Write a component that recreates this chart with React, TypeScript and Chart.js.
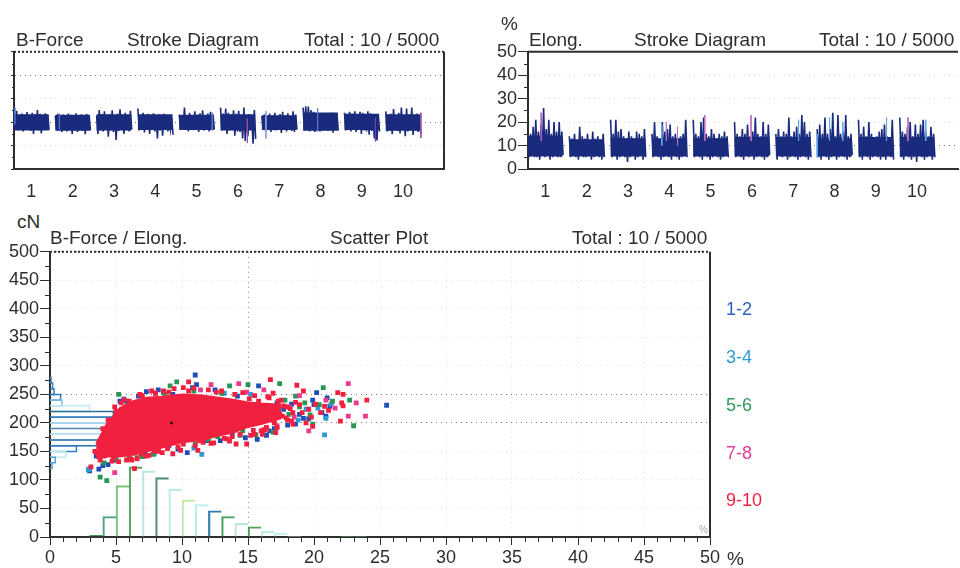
import React, { useEffect, useRef } from "react";
import { Chart, registerables } from "chart.js";

Chart.register(...registerables);

const strokeTickPositions = [0.42, 1.42, 2.42, 3.42, 4.42, 5.42, 6.42, 7.42, 8.42, 9.42];
const strokeTickLabels = ["1", "2", "3", "4", "5", "6", "7", "8", "9", "10"];

// Stroke diagram readings: alternating high / low per bobbin
const force1 = [232,168,248,166,228,172,236,160,231,168,243,171,229,163,240,150,233,170,252,165,235,152,229,169,238,173,231,166];
const force2 = [226,170,235,164,229,158,232,167,224,160,236,172,231,150,228,166,238,158,225,170,233,162,229,148,235,168,230,165];
const force3 = [228,150,252,165,234,160,246,170,228,138,233,164,250,158,226,124,236,162,255,170,231,150,240,166,229,160,248,168];
const force4 = [258,164,232,170,240,156,226,168,235,150,229,172,238,160,224,130,233,164,228,142,236,168,225,160,222,170,218,146];
const force5 = [232,172,226,168,262,176,230,160,240,170,228,166,246,174,232,158,238,170,250,165,229,172,236,160,244,170,231,168];
const force6 = [262,165,236,170,258,150,240,164,232,168,250,142,236,160,248,158,228,130,262,120,230,140,234,168,224,108,252,128];
const force7 = [226,168,232,162,222,170,236,158,228,166,240,165,226,172,234,154,244,168,229,160,238,170,224,162,246,158,232,168];
const force8 = [262,164,268,170,266,160,252,172,244,158,236,168,232,160,228,165,238,170,226,162,232,168,240,155,229,172,236,164];
const force9 = [240,165,232,170,244,160,236,168,246,158,230,172,244,150,240,165,234,160,246,146,238,162,226,130,232,122,228,160];
const force10 = [246,160,232,165,236,148,256,168,230,162,240,152,262,170,228,140,258,160,232,170,262,145,228,166,236,158,226,150];
const forceSeries = [force1, force2, force3, force4, force5, force6, force7, force8, force9, force10];
const forceBodyLow = [166,165,166,168,168,166,168,165,168,165];
const forceBodyHigh = [232,230,232,232,230,232,228,240,234,232];
const forceAccentX = [0.02,1.1,5.65,6.1,7.35,8.75,9.85,4.8];
const forceAccentHigh = [262,236,215,246,258,218,240,240];
const forceAccentLow = [190,168,112,130,160,118,132,165];
const forceAccentColors = ["#3f6fd0","#5a78c8","#a0509a","#8f9fd8","#5a78d0","#6a4ab0","#9a50a8","#5a78c8"];

const elong1 = [14,5,15,6,18,5,21,5,16,4,19,6,26,5,17,6,21,4,15,5,20,6,16,5,20,5,16,6];
const elong2 = [14,5,13,6,15,5,12,4,18,6,14,5,13,5,15,6,12,4,16,5,13,6,14,5,12,4,15,5];
const elong3 = [21,5,15,6,21,4,16,5,17,6,14,5,13,3,16,5,14,6,13,4,16,5,15,6,14,4,17,5];
const elong4 = [15,5,20,6,14,5,13,4,20,5,16,6,17,5,19,4,14,6,15,5,13,4,14,5,15,6,21,5];
const elong5 = [21,5,15,6,14,5,20,4,22,6,15,5,14,4,17,5,15,6,13,5,15,4,14,5,16,6,14,5];
const elong6 = [20,5,15,6,14,5,17,4,15,6,19,5,14,6,16,4,22,5,15,6,14,5,20,4,15,5,19,6];
const elong7 = [15,4,17,6,14,5,16,6,15,4,22,5,14,6,16,5,18,4,15,5,23,6,20,5,15,4,16,5];
const elong8 = [17,5,19,4,15,6,22,5,15,4,17,5,24,6,14,4,23,5,15,6,16,5,23,4,14,5,15,6];
const elong9 = [21,5,15,4,18,6,14,5,20,4,15,5,13,6,14,5,16,4,17,5,19,4,14,6,13,5,21,4];
const elong10 = [22,5,16,4,15,6,18,5,20,4,14,5,19,3,15,6,19,5,21,4,16,5,14,6,18,4,15,5];
const elongSeries = [elong1, elong2, elong3, elong4, elong5, elong6, elong7, elong8, elong9, elong10];
const elongBodyLow = [5.5,5.5,5.5,5.5,5.5,5.5,5.5,5.5,5.5,5.5];
const elongBodyHigh = [14,12.5,13,13,13,13.5,13.5,13,13.5,13.5];
const elongAccentX = [0.32,3.24,3.35,3.62,4.28,5.4,6.55,7.3,7.62,8.68,9.2,9.63,7.0];
const elongAccentHigh = [24,19,20,18,23,23,21,22,20,22,22,21,15];
const elongAccentLow = [12,10,12,10,12,12,12,12,12,12,12,12,5];
const elongAccentColors = ["#b060c0","#60a8e8","#c070c0","#c070c0","#c070c0","#c070c0","#60a8e8","#60a8e8","#60a8e8","#60a8e8","#c070c0","#60a8e8","#60a8e8"];

// Scatter plot readings (elongation %, force cN)
const blueX = [11,25.5,10.4,9.7,15.7,12.9,20.2,21,18.3,11.1,9.3,7.3,5.8,4,3.7,4.4,3,15.8,14.2,12.5,10.8,8.2,6.7,4.9,17.2,16.4,18.9,19.6,20.6,21.2,18,17,13.8,11.9,9,7.2,5.3,3.5,3.8,19.9,14.8,8.6,18.6,19.2,20,20.9,17.7,16.6];
const blueY = [284,231,148,154,171,169,253,244,233,267,250,255,238,125,119,127,116,265,247,258,262,258,247,135,235,178,215,207,218,229,196,190,178,169,160,149,238,142,150,240,174,254,198,208,232,212,224,186];
const cyanX = [20.8,11.5,21.3,3,6.1,7.9,13.2,16.1,18.8,20.3,4.2,10.9,15.2,2.9,5.6,19.4,20.9];
const cyanY = [179,145,233,120,232,146,252,182,205,226,170,156,250,118,242,224,208];
const greenX = [5.2,3.8,4.3,9.1,9.6,15,13.6,17.4,20.7,23,19.9,14.6,12,7.8,5,18.6,19.3,22.7,15.6,7,4.1,6,8.7,10.9,13,14.4,16.2,16.9,17.8,18.1,12.7,11,6.6,8.2,20.4,18.9,19.7,17.2,21.4];
const greenY = [250,105,99,265,272,267,265,269,262,195,198,186,171,145,137,247,235,240,179,141,130,140,250,256,252,178,205,184,240,215,176,163,139,151,232,228,214,222,238];
const pinkX = [22.6,12.2,14.3,23.2,22.6,23.9,4.9,18.1,16.2,11.4,8,18.9,20.9,17.2,14.9,19.6,21.6,18.5,16.4];
const pinkY = [269,267,269,235,212,212,113,228,258,258,252,248,240,195,254,186,226,210,188];
const redX = [16.7,18.7,10.5,21.8,22.2,24,22.1,22.2,22,19.2,20.1,19.1,18.4,19.4,20.5,17.9,14.9,14.1,11.2,9.3,6.4,3.1,8.6,10.1,4,5,6,7,8,9,10.5,12,13,14,15.5,16.5,17.5,17.9,5.2,6.2,8.2,9.7,11.6,13.4,16,17.2,18,18.6,21.1,19.8,16.9,15.5,13.8,12.2,6.6,4.7,3.6,3.4,7.5,17.6,
  4.4,4.9,5.6,6.8,7.7,9.4,10.9,12.6,14.6,15.1,15.8,16.6,17.3,17.7,18.2,16.2,15.4,14.4,13.2,11.3,10.1,8.9,7.9,6.9,5.8,4.8,4.1,3.8,17,16.4,18.4,17.4,
  18.9,19.6,20.8,18.3,19.9,17.1,16.1,15.2,13.6,12.4,11,9.9,8.5,7.3,6.1,5.4];
const redY = [276,266,272,253,250,240,235,230,203,256,233,218,198,200,218,209,163,163,152,146,120,123,256,262,190,220,238,248,252,254,256,258,256,250,248,246,240,228,132,135,150,158,166,172,186,192,205,236,222,210,252,180,176,164,137,133,146,150,143,212,
  205,228,241,250,256,260,261,254,253,242,238,244,238,230,225,188,187,180,173,169,163,155,150,145,135,140,142,135,200,192,218,215,
  232,224,229,203,194,183,180,178,168,165,160,152,148,142,137,235];
const markX = [9.2];
const markY = [200];

// Outline of the saturated part of the cloud
const cloudX = [3.5,4.3,5.3,6.3,7.3,8.5,10,11.5,12.5,14,15,16,17.5];
const cloudUpper = [163,198,226,238,244,246,250,248,245,240,236,234,232];
const cloudLower = [138,141,141,144,150,157,166,170,176,184,193,198,208];

// Histograms
const elongBins = [3.5,4.5,5.5,6.5,7.5,8.5,9.5,10.5,11.5,12.5,13.5,14.5,15.5,16.5,17.5,18.5,19.5,20.5,21.5,22.5,23.5];
const elongCounts = [3,36,90,123,116,104,84,65,57,46,36,24,18,10,7,1,0.5,0.5,0.5,1,1];
const elongBinColors = ["#3c9a50","#4f9f8e","#7fc27a","#5ba565","#b9e8e0","#4f8f78","#bcecea","#c4e9a8","#b9eeea","#2f7ab0","#4aa060","#bfe6da","#4f9f5a","#bfefe6","#bfefe6","#cdeedd","#cfeee2","#cfeee2","#cfeee2","#7cc47c","#7cc47c"];
const forceBinTops = [130,140,150,160,170,180,190,200,210,220,230,240,250,260,270,280];
const forceCounts = [0.15,0.4,1.2,2,3.6,4.4,6.3,5.2,5.8,4.8,3,0.9,0.8,0.3,0.2,0.1];
const forceBinWidth = 10;
const forceBinColors = ["#5aa0d8","#5aa0d8","#bfeaf4","#2f7fc8","#2a6fa8","#c4ecf6","#5a8ab0","#bfeaf4","#2f7fc8","#2a6f90","#bfeaf4","#7fc0e8","#2f7fc8","#2f7fc8","#2f7fc8","#5aa0d8"];

const forceMinorY = [50,150,250,350,450];
const elongMinorY = [5,15,25,35,45];
const scatterMinorY = [25,75,125,175,225,275,325,375,425,475];
const scatterMinorX = [1,2,3,4,6,7,8,9,11,12,13,14,16,17,18,19,21,22,23,24,26,27,28,29,31,32,33,34,36,37,38,39,41,42,43,44,46,47,48,49];
const scatterStrongY = [200, 250, 500];
const scatterStrongX = [15];

const FONT = "'Liberation Sans', Arial, sans-serif";
const INK = "#2e2e2e";
const NAVY = "#1a2b7d";

const extras = {
  id: "extras",
  afterDatasetsDraw(chart: any, _a: any, o: any) {
    const { ctx, chartArea: a, scales } = chart;
    ctx.save();
    ctx.strokeStyle = INK;
    ctx.lineWidth = 1;
    (o.minorY || []).forEach((v: number) => {
      const p = Math.round(scales.y.getPixelForValue(v)) + 0.5;
      ctx.beginPath(); ctx.moveTo(a.left - o.minorLen, p); ctx.lineTo(a.left, p); ctx.stroke();
    });
    (o.minorX || []).forEach((v: number) => {
      const p = Math.round(scales.x.getPixelForValue(v)) + 0.5;
      ctx.beginPath(); ctx.moveTo(p, a.bottom); ctx.lineTo(p, a.bottom + o.minorLen); ctx.stroke();
    });
    ctx.lineWidth = 2;
    if (o.right) {
      ctx.beginPath(); ctx.moveTo(a.right, a.top); ctx.lineTo(a.right, a.bottom); ctx.stroke();
    }
    if (o.top) {
      ctx.setLineDash(o.top === "dotted" ? [2, 2] : []);
      ctx.beginPath(); ctx.moveTo(a.left, a.top); ctx.lineTo(a.right, a.top); ctx.stroke();
    }
    ctx.restore();
  },
};

function strokeOptions(cfg: any): any {
  return {
    responsive: false,
    animation: false,
    layout: { padding: cfg.padding },
    plugins: {
      legend: { display: false },
      tooltip: { enabled: false },
      extras: { minorY: cfg.minorY, minorLen: cfg.minorLen, right: cfg.right, top: cfg.top },
    },
    scales: {
      x: {
        type: "linear",
        min: 0,
        max: 10.41,
        offset: false,
        grid: { display: false, drawTicks: false, offset: false },
        border: { color: INK, width: 2 },
        afterBuildTicks: (s: any) => { s.ticks = strokeTickPositions.map((value) => ({ value })); },
        afterFit: (s: any) => { s.height = cfg.xHeight; },
        ticks: {
          autoSkip: false, maxRotation: 0, padding: 12, color: INK,
          font: { family: FONT, size: 18 },
          callback: (_v: any, i: number) => strokeTickLabels[i],
        },
      },
      y: {
        min: 0,
        max: cfg.max,
        afterFit: (s: any) => { s.width = cfg.yWidth; },
        border: { color: INK, width: 2, dash: [1, 4] },
        grid: {
          color: (c: any) => (cfg.strong.includes(c.tick?.value) ? "#777" : "#d4d4d4"),
          tickColor: INK, tickLength: cfg.tickLen,
        },
        ticks: {
          stepSize: cfg.step, padding: 1, color: INK, autoSkip: false,
          font: { family: FONT, size: 18 },
          callback: (v: any) => (cfg.labels ? String(v) : ""),
        },
      },
    },
  };
}

function strokeData(series: number[][], low: number[], high: number[], accX: number[], accHigh: number[], accLow: number[], accColors: string[], color: string) {
  return {
    datasets: [
      ...accX.map((x, i) => ({
        type: "line",
        label: "spike " + i,
        data: [{ x, y: accHigh[i] }, { x, y: accLow[i] }],
        borderColor: accColors[i],
        borderWidth: 1,
        pointRadius: 0,
        order: 0,
      })),
      ...series.map((vals, g) => ({
        type: "line",
        label: strokeTickLabels[g],
        data: vals.map((y, i) => ({ x: g + (i / (vals.length - 1)) * 0.85, y })),
        borderColor: color,
        borderWidth: 1.6,
        pointRadius: 0,
        tension: 0,
        order: 1,
      })),
      {
        type: "bar",
        label: "body",
        data: low.map((l, g) => ({ x: strokeTickPositions[g], y: [l, high[g]] })),
        backgroundColor: color,
        barThickness: 34,
        borderWidth: 0,
        order: 2,
      },
    ],
  };
}

function pts(xs: number[], ys: number[]) {
  return xs.map((x, i) => ({ x, y: ys[i] }));
}

function scatterSet(label: string, xs: number[], ys: number[], color: string, order: number, radius = 3.4) {
  return {
    type: "scatter", label, data: pts(xs, ys), order,
    backgroundColor: color, borderColor: color, borderWidth: 0,
    pointStyle: "rect", pointRadius: radius,
  };
}

function useChart(build: () => any) {
  const ref = useRef<HTMLCanvasElement | null>(null);
  useEffect(() => {
    const c = new Chart(ref.current as any, build());
    return () => c.destroy();
  }, []);
  return ref;
}

const Label = ({ x, y, children, color = INK, size = 19 }: any) => (
  <span style={{ position: "absolute", left: x, top: y, color, fontFamily: FONT, fontSize: size, lineHeight: "20px", whiteSpace: "pre" }}>{children}</span>
);

export default function App() {
  const forceRef = useChart(() => ({
    type: "line",
    data: strokeData(forceSeries, forceBodyLow, forceBodyHigh, forceAccentX, forceAccentHigh, forceAccentLow, forceAccentColors, NAVY),
    options: strokeOptions({ padding: { top: 9, right: 16, left: 0, bottom: 0 }, xHeight: 39, yWidth: 14, max: 500, step: 100, labels: false, tickLen: 3, minorY: forceMinorY, minorLen: 2, strong: [200, 400], right: true, top: "dotted" }),
    plugins: [extras],
  }));
  const elongRef = useChart(() => ({
    type: "line",
    data: strokeData(elongSeries, elongBodyLow, elongBodyHigh, elongAccentX, elongAccentHigh, elongAccentLow, elongAccentColors, NAVY),
    options: strokeOptions({ padding: { top: 10, right: 2, left: 0, bottom: 0 }, xHeight: 39, yWidth: 48, max: 50, step: 10, labels: true, tickLen: 10, minorY: elongMinorY, minorLen: 4, strong: [10], right: false, top: "solid" }),
    plugins: [extras],
  }));
  const scatterRef = useChart(() => ({
    type: "scatter",
    data: {
      datasets: [
        scatterSet("centre", markX, markY, "#111", 0, 1.8),
        scatterSet("9-10", redX, redY, "#f2203f", 1),
        { type: "line", label: "cloud", data: pts(cloudX, cloudUpper), order: 2, borderColor: "#f2203f", backgroundColor: "#f2203f", borderWidth: 2, pointRadius: 0, tension: 0, fill: { target: 3 } },
        { type: "line", label: "cloud lower", data: pts(cloudX, cloudLower), order: 2.5, borderColor: "#f2203f", borderWidth: 2, pointRadius: 0, tension: 0, fill: false },
        scatterSet("7-8", pinkX, pinkY, "#ec3a8c", 3),
        scatterSet("5-6", greenX, greenY, "#2a9455", 4),
        scatterSet("3-4", cyanX, cyanY, "#2a9ad8", 5),
        scatterSet("1-2", blueX, blueY, "#1c50b8", 6),
        { type: "bar", label: "Elong. histogram", data: pts(elongBins, elongCounts), order: 7, backgroundColor: "transparent", borderColor: elongBinColors, borderWidth: { top: 1.5, left: 1.5, right: 0, bottom: 0 }, barPercentage: 1, categoryPercentage: 1 },
        ...forceBinTops.map((top, i) => ({
          type: "line",
          label: "B-Force histogram " + top,
          data: [
            { x: 0, y: top },
            { x: forceCounts[i], y: top },
            { x: forceCounts[i], y: top - forceBinWidth },
            { x: 0, y: top - forceBinWidth },
          ],
          order: 8,
          borderColor: forceBinColors[i],
          borderWidth: 1.5,
          pointRadius: 0,
          tension: 0,
          fill: false,
        })),
      ],
    },
    options: {
      responsive: false,
      animation: false,
      layout: { padding: { top: 10, right: 20, left: 0, bottom: 0 } },
      plugins: {
        legend: { display: false },
        tooltip: { enabled: false },
        extras: { minorY: scatterMinorY, minorX: scatterMinorX, minorLen: 5, right: true, top: "dotted" },
      },
      scales: {
        x: {
          type: "linear", min: 0, max: 50, offset: false,
          afterFit: (s: any) => { s.height = 31; },
          border: { color: INK, width: 2, dash: [1, 4] },
          grid: { offset: false, tickLength: 8, tickColor: INK, color: (c: any) => (scatterStrongX.includes(c.tick?.value) ? "#888" : "#e2e2e2") },
          ticks: { stepSize: 5, padding: 2, maxRotation: 0, color: INK, font: { family: FONT, size: 18 } },
        },
        y: {
          type: "linear", min: 0, max: 500, offset: false,
          afterFit: (s: any) => { s.width = 50; },
          border: { color: INK, width: 2, dash: [1, 4] },
          grid: { offset: false, tickLength: 10, tickColor: INK, color: (c: any) => (scatterStrongY.includes(c.tick?.value) ? "#777" : "#e2e2e2") },
          ticks: { stepSize: 50, padding: 1, color: INK, font: { family: FONT, size: 18 } },
        },
      },
    },
    plugins: [extras],
  }));

  return (
    <div style={{ position: "fixed", left: 0, top: 0, width: 960, height: 568, background: "#fff", overflow: "hidden", filter: "blur(0.55px)" }}>
      <canvas ref={forceRef} width={460} height={168} style={{ position: "absolute", left: 0, top: 40 }} />
      <canvas ref={elongRef} width={480} height={168} style={{ position: "absolute", left: 480, top: 40 }} />
      <canvas ref={scatterRef} width={730} height={328} style={{ position: "absolute", left: 0, top: 240 }} />

      <Label x={16} y={30}>B-Force</Label>
      <Label x={127} y={30}>Stroke Diagram</Label>
      <Label x={304} y={30}>Total : 10 / 5000</Label>

      <Label x={501} y={14}>%</Label>
      <Label x={529} y={30}>Elong.</Label>
      <Label x={634} y={30}>Stroke Diagram</Label>
      <Label x={819} y={30}>Total : 10 / 5000</Label>

      <Label x={17} y={212}>cN</Label>
      <Label x={50} y={228}>B-Force / Elong.</Label>
      <Label x={330} y={228}>Scatter Plot</Label>
      <Label x={572} y={228}>Total : 10 / 5000</Label>

      <Label x={726} y={299} color="#2a62c4" size={18}>1-2</Label>
      <Label x={726} y={347} color="#2f9ad6" size={18}>3-4</Label>
      <Label x={726} y={395} color="#2f9a5a" size={18}>5-6</Label>
      <Label x={726} y={443} color="#e43c92" size={18}>7-8</Label>
      <Label x={726} y={490} color="#f2203f" size={18}>9-10</Label>

      <Label x={727} y={549}>%</Label>
      <Label x={699} y={520} color="#aaa" size={10}>%</Label>
    </div>
  );
}
